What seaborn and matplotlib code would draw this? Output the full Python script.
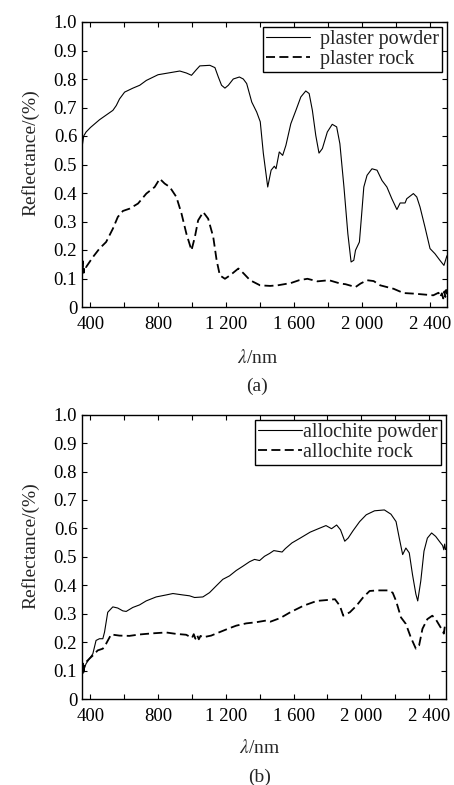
import matplotlib
matplotlib.use("Agg")
import matplotlib.pyplot as plt
import seaborn as sns
import pandas as pd

# ---------------- data ----------------
pp_x = [350, 360, 374, 400, 453, 532, 552, 571, 601, 650,
        690, 729, 798, 867, 926, 965, 995, 1024, 1044, 1103,
        1133, 1153, 1172, 1192, 1212, 1241, 1277, 1300, 1320, 1350,
        1379, 1400, 1418, 1444, 1464, 1483, 1493, 1512, 1532, 1551,
        1580, 1610, 1639, 1668, 1688, 1707, 1727, 1746, 1766, 1795,
        1824, 1850, 1869, 1893, 1916, 1935, 1951, 1961, 1984, 1996,
        2010, 2029, 2058, 2088, 2117, 2146, 2175, 2205, 2224, 2253,
        2263, 2302, 2322, 2341, 2370, 2400, 2429, 2458, 2482, 2497, 2500]
pp_y = [0.56, 0.60, 0.614, 0.63, 0.657, 0.69, 0.707, 0.73, 0.754, 0.768,
        0.778, 0.795, 0.815, 0.822, 0.828, 0.821, 0.813, 0.833, 0.846, 0.848,
        0.84, 0.807, 0.778, 0.768, 0.778, 0.80, 0.807, 0.80, 0.784, 0.719,
        0.684, 0.65, 0.54, 0.421, 0.48, 0.494, 0.485, 0.544, 0.532, 0.567,
        0.643, 0.69, 0.737, 0.758, 0.749, 0.69, 0.602, 0.54, 0.556, 0.614,
        0.641, 0.632, 0.573, 0.421, 0.257, 0.158, 0.164, 0.199, 0.228, 0.316,
        0.421, 0.462, 0.485, 0.48, 0.444, 0.421, 0.38, 0.342, 0.365, 0.365,
        0.38, 0.398, 0.386, 0.351, 0.281, 0.205, 0.187, 0.164, 0.146, 0.175, 0.18]

pr_x = [350, 353, 356, 360, 365, 374, 414, 453, 492, 532,
        561, 591, 630, 680, 729, 778, 808, 837, 867, 906,
        936, 965, 995, 1015, 1034, 1064, 1093, 1123, 1143, 1162,
        1192, 1222, 1271, 1300, 1340, 1399, 1458, 1502, 1580, 1629,
        1678, 1737, 1805, 1873, 1902, 1961, 1990, 2029, 2068, 2107,
        2146, 2185, 2244, 2302, 2361, 2419, 2450, 2460, 2470, 2478,
        2485, 2490, 2495, 2500]
pr_y = [0.17, 0.13, 0.16, 0.12, 0.145, 0.14, 0.175, 0.205, 0.228, 0.275,
        0.316, 0.337, 0.345, 0.363, 0.398, 0.421, 0.45, 0.433, 0.421, 0.386,
        0.328, 0.257, 0.199, 0.246, 0.304, 0.333, 0.31, 0.246, 0.164, 0.111,
        0.099, 0.111, 0.135, 0.119, 0.094, 0.076, 0.074, 0.076, 0.084, 0.094,
        0.099, 0.09, 0.094, 0.082, 0.08, 0.07, 0.082, 0.094, 0.091, 0.076,
        0.07, 0.064, 0.049, 0.047, 0.044, 0.041, 0.05, 0.035, 0.048, 0.03,
        0.055, 0.035, 0.06, 0.045]

ap_x = [350, 353, 356, 360, 365, 374, 394, 414, 433, 453,
        473, 483, 502, 532, 561, 591, 611, 650, 690, 729,
        788, 847, 887, 946, 985, 1015, 1064, 1103, 1143, 1182,
        1221, 1261, 1300, 1340, 1369, 1399, 1428, 1458, 1483, 1532,
        1551, 1590, 1639, 1698, 1746, 1791, 1824, 1854, 1877, 1902,
        1922, 1951, 1990, 2029, 2078, 2136, 2175, 2205, 2224, 2244,
        2263, 2283, 2302, 2322, 2333, 2351, 2370, 2390, 2415, 2439,
        2468, 2480, 2487, 2492, 2497, 2500]
ap_y = [0.10, 0.125, 0.09, 0.12, 0.11, 0.124, 0.142, 0.159, 0.206, 0.212,
        0.212, 0.235, 0.305, 0.324, 0.32, 0.31, 0.308, 0.322, 0.331, 0.345,
        0.359, 0.366, 0.371, 0.366, 0.363, 0.357, 0.359, 0.374, 0.398, 0.421,
        0.433, 0.452, 0.467, 0.483, 0.491, 0.487, 0.502, 0.512, 0.522, 0.517,
        0.529, 0.549, 0.566, 0.587, 0.599, 0.61, 0.599, 0.612, 0.595, 0.555,
        0.566, 0.592, 0.624, 0.648, 0.662, 0.665, 0.65, 0.624, 0.566, 0.508,
        0.531, 0.514, 0.438, 0.369, 0.345, 0.415, 0.52, 0.566, 0.584, 0.572,
        0.549, 0.54, 0.525, 0.545, 0.526, 0.53]

ar_x = [350, 355, 360, 365, 374, 394, 414, 443, 473, 492,
        522, 571, 630, 690, 768, 847, 906, 965, 1000, 1010,
        1020, 1030, 1040, 1050, 1064, 1113, 1162, 1212, 1261, 1320,
        1379, 1438, 1463, 1522, 1580, 1658, 1737, 1795, 1844, 1873,
        1893, 1932, 1971, 2010, 2049, 2098, 2156, 2185, 2205, 2234,
        2263, 2292, 2322, 2341, 2361, 2390, 2419, 2439, 2468, 2480,
        2487, 2493, 2500]
ar_y = [0.10, 0.125, 0.095, 0.12, 0.13, 0.142, 0.153, 0.171, 0.177, 0.194,
        0.227, 0.223, 0.222, 0.227, 0.231, 0.234, 0.229, 0.226, 0.215, 0.228,
        0.212, 0.225, 0.21, 0.222, 0.217, 0.223, 0.235, 0.247, 0.258, 0.266,
        0.27, 0.276, 0.272, 0.285, 0.305, 0.328, 0.345, 0.348, 0.351, 0.328,
        0.293, 0.305, 0.328, 0.357, 0.38, 0.382, 0.382, 0.374, 0.345, 0.287,
        0.264, 0.217, 0.177, 0.188, 0.247, 0.281, 0.293, 0.281, 0.252, 0.241,
        0.23, 0.255, 0.245]

x_ticks = [400, 600, 800, 1000, 1200, 1400, 1600, 1800, 2000, 2200, 2400]
x_tick_labels = ["400", "", "800", "", "1 200", "", "1 600", "", "2 000", "", "2 400"]
y_ticks = [0, 0.1, 0.2, 0.3, 0.4, 0.5, 0.6, 0.7, 0.8, 0.9, 1.0]
y_tick_labels = ["0", "0.1", "0.2", "0.3", "0.4", "0.5", "0.6", "0.7", "0.8", "0.9", "1.0"]

labels_a = ["plaster powder", "plaster rock"]
labels_b = ["allochite powder", "allochite rock"]

# ---------------- style ----------------
sns.set_style("ticks")
plt.rcParams["font.family"] = ["Liberation Serif", "DejaVu Serif"]
plt.rcParams["mathtext.fontset"] = "stix"

W, H = 454, 785
fig = plt.figure(figsize=(W / 100, H / 100), dpi=100)
ax1 = fig.add_axes([82 / W, 1 - 307 / H, 365 / W, 285 / H])
ax2 = fig.add_axes([82 / W, 1 - 699 / H, 364 / W, 284.3 / H])

dash = (5.0, 2.4)


def draw(ax, sx, sy, dx, dy, labels, textpad, ylab_y):
    d1 = pd.DataFrame({"x": sx, "y": sy})
    d2 = pd.DataFrame({"x": dx, "y": dy})
    sns.lineplot(data=d1, x="x", y="y", ax=ax, color="black", lw=0.8,
                 label=labels[0], sort=False, estimator=None)
    sns.lineplot(data=d2, x="x", y="y", ax=ax, color="black", lw=1.3,
                 label=labels[1], sort=False, estimator=None, dashes=False)
    ax.lines[1].set_dashes(dash)
    ax.set_xlim(350, 2500)
    ax.set_ylim(0, 1.0)
    ax.set_xticks(x_ticks)
    ax.set_xticklabels(x_tick_labels)
    ax.set_yticks(y_ticks)
    ax.set_yticklabels(y_tick_labels)
    ax.tick_params(direction="in", top=True, right=True, length=3.5,
                   width=0.8, labelsize=13.5, colors="black")
    ax.tick_params(axis="x", pad=6.5)
    ax.tick_params(axis="y", pad=3.5)
    for s in ax.spines.values():
        s.set_linewidth(1.0)
        s.set_color("black")
    ax.set_xlabel("")
    ax.set_ylabel("Reflectance/(%)", fontsize=14)
    ax.yaxis.set_label_coords(-0.118, ylab_y)
    leg = ax.legend(loc="upper right", fontsize=14.5, frameon=True,
                    fancybox=False, framealpha=1, edgecolor="black",
                    borderaxespad=0.25, borderpad=0.15, labelspacing=0.05,
                    handlelength=2.2, handletextpad=textpad)
    leg.get_frame().set_linewidth(1.0)
    leg.legend_handles[1].set_dashes(dash)


draw(ax1, pp_x, pp_y, pr_x, pr_y, labels_a, 0.5, 0.54)
draw(ax2, ap_x, ap_y, ar_x, ar_y, labels_b, 0.05, 0.54)

fig.text(258 / W, 1 - 358 / H, r"$\lambda$/nm", ha="center", va="center", fontsize=14)
fig.text(257 / W, 1 - 386 / H, "(a)", ha="center", va="center", fontsize=14)
fig.text(260 / W, 1 - 748 / H, r"$\lambda$/nm", ha="center", va="center", fontsize=14)
fig.text(260 / W, 1 - 777 / H, "(b)", ha="center", va="center", fontsize=14)

fig.savefig("out.png", dpi=100)
